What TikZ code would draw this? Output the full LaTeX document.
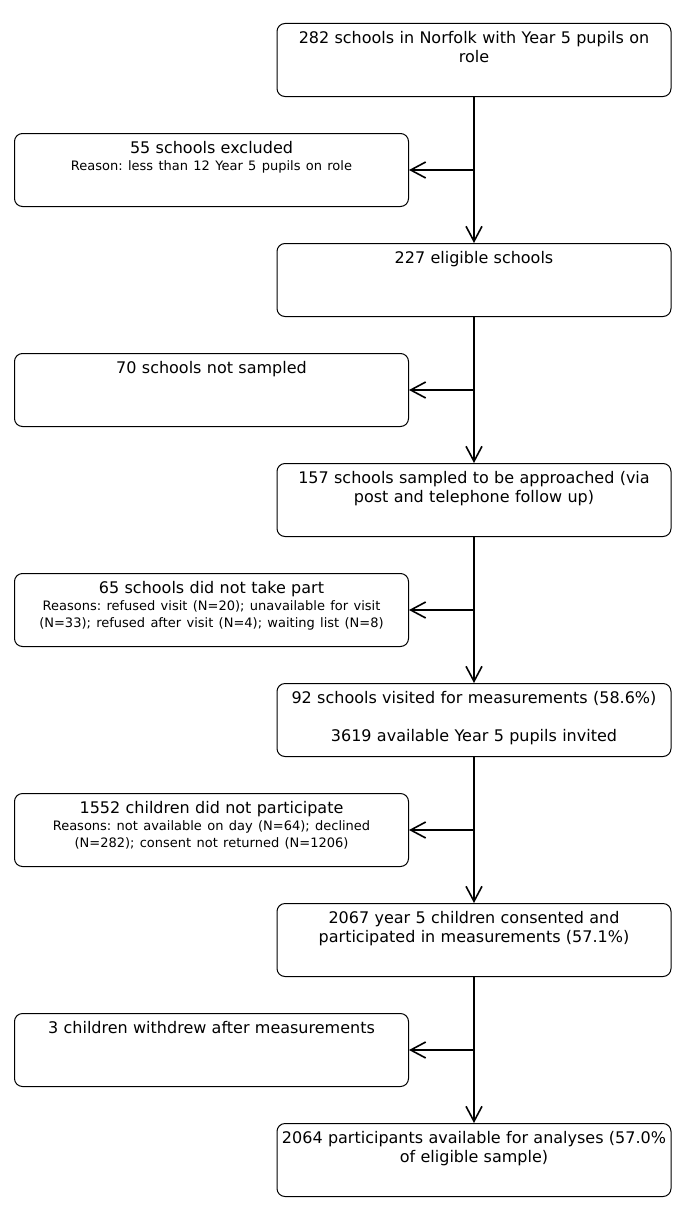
\documentclass[tikz,border=0pt]{standalone}
\usepackage{fontspec}
\setmainfont{DejaVu Sans}
\usetikzlibrary{arrows.meta}
\frenchspacing
\newcommand{\mainsize}{\fontsize{16}{19}\selectfont}
\newcommand{\reasonsize}{\fontsize{13}{17}\selectfont}
\tikzset{
  stage/.style={draw, line width=1pt, rounded corners=8pt, anchor=north,
    align=center, text width=390pt, inner xsep=2pt, inner ysep=0pt,
    text height=20pt, text depth=53pt, font=\mainsize},
  loss/.style={stage, font=\fontsize{16}{17}\selectfont},
  flow/.style={line width=1.6pt, -{Straight Barb[length=15pt,width=16pt,line width=1.6pt]}}
}
\begin{document}
\begin{tikzpicture}[x=1pt,y=1pt]
  \useasboundingbox[fill=white] (0,0) rectangle (685,-1215);

  % main stream
  \node[stage] (schools) at (474,-23) {282 schools in Norfolk with Year 5 pupils on\\role};
  \node[stage] (eligible) at (474,-243) {227 eligible schools};
  \node[stage] (sampled) at (474,-463) {157 schools sampled to be approached (via\\post and telephone follow up)};
  \node[stage] (visited) at (474,-683) {92 schools visited for measurements (58.6\%)\\[19pt]3619 available Year 5 pupils invited};
  \node[stage] (consented) at (474,-903) {2067 year 5 children consented and\\participated in measurements (57.1\%)};
  \node[stage] (analysed) at (474,-1123) {2064 participants available for analyses (57.0\%\\of eligible sample)};

  % exclusions
  \node[loss] (excluded) at (211.5,-133) {55 schools excluded\\\reasonsize Reason: less than 12 Year 5 pupils on role};
  \node[loss] (notsampled) at (211.5,-353) {70 schools not sampled};
  \node[loss] (notpart) at (211.5,-573) {65 schools did not take part\\\reasonsize Reasons: refused visit (N=20); unavailable for visit\\(N=33); refused after visit (N=4); waiting list (N=8)};
  \node[loss] (nochild) at (211.5,-793) {1552 children did not participate\\\reasonsize Reasons: not available on day (N=64); declined\\(N=282); consent not returned (N=1206)};
  \node[loss] (withdrew) at (211.5,-1013) {3 children withdrew after measurements};

  \draw[flow] (schools.south) -- (eligible.north);
  \draw[flow] (eligible.south) -- (sampled.north);
  \draw[flow] (sampled.south) -- (visited.north);
  \draw[flow] (visited.south) -- (consented.north);
  \draw[flow] (consented.south) -- (analysed.north);

  \draw[flow] (excluded.east -| schools.south) -- (excluded.east);
  \draw[flow] (notsampled.east -| eligible.south) -- (notsampled.east);
  \draw[flow] (notpart.east -| sampled.south) -- (notpart.east);
  \draw[flow] (nochild.east -| visited.south) -- (nochild.east);
  \draw[flow] (withdrew.east -| consented.south) -- (withdrew.east);
\end{tikzpicture}
\end{document}
